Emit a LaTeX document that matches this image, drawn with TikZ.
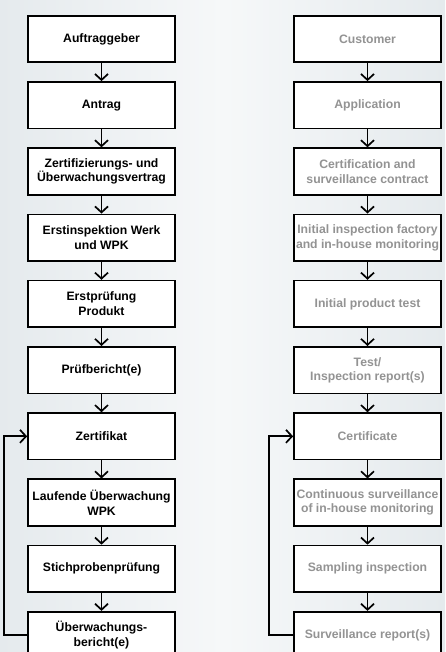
\documentclass[tikz,border=0pt]{standalone}
\usepackage{fontspec}
\setmainfont{Liberation Sans}
\usepackage{tikz}
\usetikzlibrary{arrows.meta}
\definecolor{bgedge}{HTML}{E5EAED}
\definecolor{bgmid}{HTML}{F6F8F9}
\definecolor{entext}{HTML}{939393}

\begin{document}
\begin{tikzpicture}[x=1pt,y=-1pt,
    stepbox/.style={draw,line width=1.7pt,fill=white,minimum width=147pt,minimum height=46.5pt,
        inner sep=1pt,align=center,font=\bfseries\fontsize{12.2}{14.5}\selectfont},
    enbox/.style={stepbox,text=entext},
    flow/.style={line width=1.7pt,-{Straight Barb[length=6pt,width=13pt]}}]
    \useasboundingbox[left color=bgedge,right color=bgedge,middle color=bgmid] (0,0) rectangle (445,652);
    % German column
    \foreach \t [count=\i] in {Auftraggeber,Antrag,{Zertifizierungs- und\\Überwachungsvertrag},
        {Erstinspektion Werk\\und WPK},{Erstprüfung\\Produkt},Prüfbericht(e),Zertifikat,
        {Laufende Überwachung\\WPK},Stichprobenprüfung,{Überwachungs-\\bericht(e)}}
        \node[stepbox] (d\i) at (101.5,{39+66.22*(\i-1)}) {\t};
    % English column
    \foreach \t [count=\i] in {Customer,Application,{Certification and\\surveillance contract},
        {Initial inspection factory\\and in-house monitoring},Initial product test,
        {Test/\\Inspection report(s)},Certificate,
        {Continuous surveillance\\of in-house monitoring},Sampling inspection,Surveillance report(s)}
        \node[enbox] (e\i) at (367.5,{39+66.22*(\i-1)}) {\t};
    \foreach \i in {1,...,9}{
        \pgfmathtruncatemacro\j{\i+1}
        \draw[flow] (d\i) -- (d\j);
        \draw[flow] (e\i) -- (e\j);
    }
    % surveillance loop back to certificate
    \draw[flow] (d10.west) -- ++(-23,0) |- (d7.west);
    \draw[flow] (e10.west) -- ++(-24,0) |- (e7.west);
\end{tikzpicture}
\end{document}
